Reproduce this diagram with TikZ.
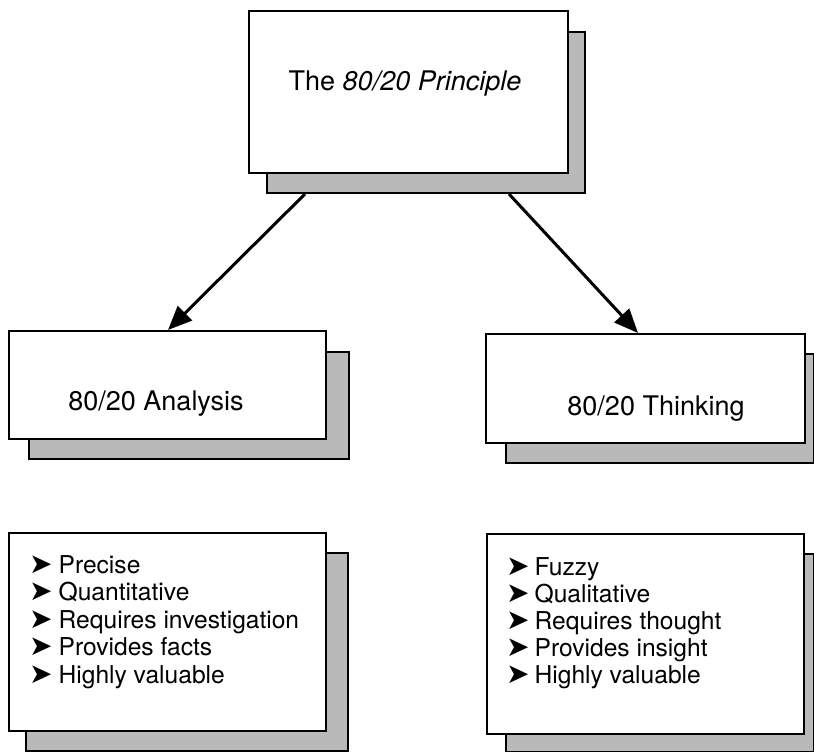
\documentclass[tikz,border=0pt]{standalone}
\usepackage{fontspec}
\setmainfont{TeX Gyre Heros}
\newfontfamily\symfont{DejaVu Sans}
\usetikzlibrary{arrows.meta}
\begin{document}
\begin{tikzpicture}[x=1pt,y=-1pt,
  frontbox/.style={draw=black,line width=2pt,fill=white,rectangle,inner sep=0pt,anchor=north west},
  shadowbox/.style={draw=black,line width=2pt,fill=gray!55,rectangle,inner sep=0pt,anchor=north west},
  lbl/.style={font=\fontsize{27}{32}\selectfont,inner sep=0pt},
  item/.style={font=\fontsize{24.6}{27}\selectfont,anchor=base west,inner sep=0pt},
  arr/.style={line width=3pt,-{Triangle[length=24pt,width=20pt]}}]
\useasboundingbox (0,0) rectangle (814,752);
% shadows
\node[shadowbox,minimum width=318pt,minimum height=161pt] (topS) at (266,31) {};
\node[shadowbox,minimum width=320pt,minimum height=107pt] (anaS) at (28,351) {};
\node[shadowbox,minimum width=308pt,minimum height=109pt] (thkS) at (505,353) {};
\node[shadowbox,minimum width=322pt,minimum height=198pt] (anaLS) at (25,552) {};
\node[shadowbox,minimum width=308pt,minimum height=198pt] (thkLS) at (505,553) {};
% front boxes
\node[frontbox,minimum width=319pt,minimum height=162pt] (topF) at (248,10) {};
\node[frontbox,minimum width=317pt,minimum height=108pt] (anaF) at (8,330) {};
\node[frontbox,minimum width=319pt,minimum height=109pt] (thkF) at (485,333) {};
\node[frontbox,minimum width=317pt,minimum height=198pt] (anaLF) at (8,532) {};
\node[frontbox,minimum width=317pt,minimum height=200pt] (thkLF) at (486,533) {};
% titles
\node[lbl] (topT) at (405,84) {The \textit{80/20 Principle}};
\node[lbl] (anaT) at (156,404) {80/20 Analysis};
\node[lbl] (thkT) at (656,409) {80/20 Thinking};
% lists
\foreach \t [count=\i] in {Precise,Quantitative,Requires investigation,Provides facts,Highly valuable}
  \node[item] (aL\i) at (29,{573+27.5*(\i-1)}) {{\symfont\fontsize{28}{28}\selectfont ➤}\hspace{6pt}\t};
\foreach \t [count=\i] in {Fuzzy,Qualitative,Requires thought,Provides insight,Highly valuable}
  \node[item] (tL\i) at (506,{575+27*(\i-1)}) {{\symfont\fontsize{28}{28}\selectfont ➤}\hspace{5pt}\t};
% arrows
\draw[arr] ([xshift=39pt]topS.south west) -- ([xshift=160pt]anaF.north west);
\draw[arr] ([xshift=-77pt]topS.south east) -- ([xshift=153pt]thkF.north west);
\end{tikzpicture}
\end{document}
